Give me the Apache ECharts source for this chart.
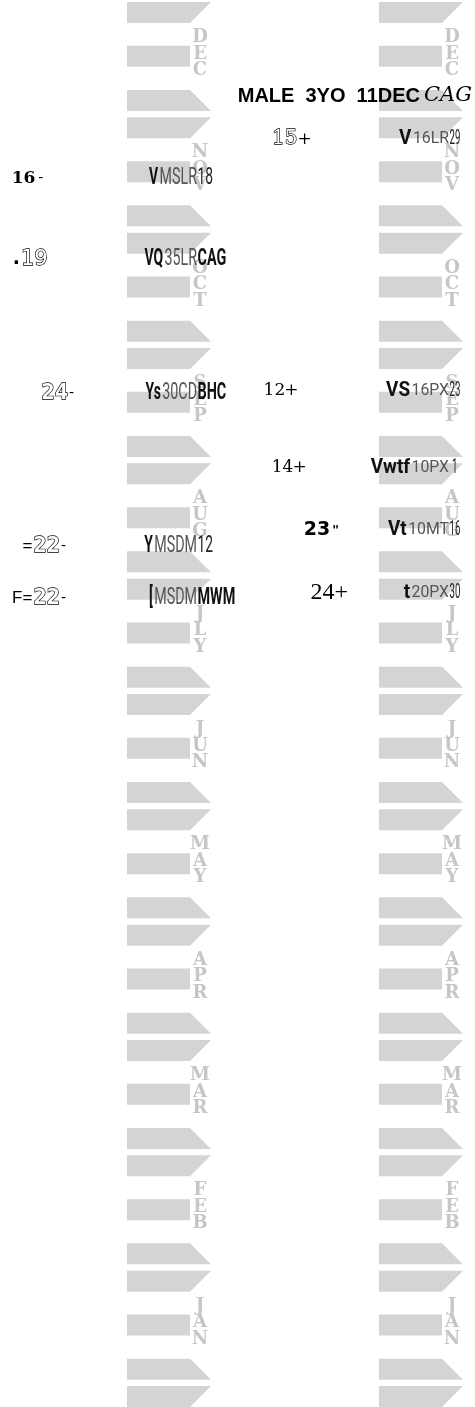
<!DOCTYPE html>
<html><head><meta charset="utf-8">
<script src="https://cdn.jsdelivr.net/npm/echarts@6/dist/echarts.min.js"></script>
<style>html,body{margin:0;padding:0;background:#fff}#c{width:475px;height:1407px}</style>
</head><body><div id="c"></div>
<script>
// ---------- data ----------
const months = ['DEC','NOV','OCT','SEP','AUG','JLY','JUN','MAY','APR','MAR','FEB','JAN'];
const columns = ['earlier', 'later'];
// time is measured in months from the top of DEC (0) down to the bottom of JAN (12)
const leftFigures = [16, 19, 24, 22, 22];
const leftPrefix  = ['', '.', '', '=', 'F='];
const leftSuffix  = ['-', '', '-', '-', '-'];
const leftTime    = [1.53, 2.23, 3.39, 4.72, 5.17];
const leftFlags   = ['V', 'VQ', 'Ys', 'Y', '['];
const leftRace    = ['MSLR', '35LR', '30CD', 'MSDM', 'MSDM'];
const leftTail    = ['18', 'CAG', 'BHC', '12', 'MWM'];
const leftTailIsTrack = [false, true, true, false, true];

const rightFigures = [15, 12, 14, 23, 24];
const rightPrefix  = ['', '', '', '', ''];
const rightSuffix  = ['+', '+', '+', '"', '+'];
const rightTime    = [1.19, 3.37, 4.04, 4.58, 5.12];
const rightFlags   = ['V', 'VS', 'Vwtf', 'Vt', 't'];
const rightRace    = ['16LR', '16PX', '10PX', '10MT', '20PX'];
const rightTail    = ['29', '23', ' 1', '16', '30'];

const headerMain  = 'MALE  3YO  11DEC';
const headerTrack = 'CAG';
const headerTime  = 0.815;

// ---------- styles ----------
const SHAPE = '#d4d4d4', LETTER = '#c6c6c6';
const FS = {
  serifBold:   {fontFamily:'DejaVu Serif', fontWeight:'bold', fontSize:17, fill:'#000'},
  outlineSans: {fontFamily:'DejaVu Sans', fontWeight:'normal', fontSize:21, fill:'#fff', stroke:'#000', lineWidth:1.3},
  outlineMono: {fontFamily:'DejaVu Sans Mono', fontWeight:'bold', fontSize:22, fill:'#fff', stroke:'#000', lineWidth:1.3},
  outlineSerif:{fontFamily:'DejaVu Serif', fontWeight:'normal', fontSize:20, fill:'#fff', stroke:'#000', lineWidth:1.3},
  serif:       {fontFamily:'DejaVu Serif', fontWeight:'normal', fontSize:17, fill:'#000'},
  heavy:       {fontFamily:'DejaVu Sans', fontWeight:'bold', fontSize:19, fill:'#000'},
  serifLight:  {fontFamily:'Liberation Serif', fontWeight:'normal', fontSize:24, fill:'#000'},
  small:       {fontFamily:'DejaVu Sans', fontWeight:'normal', fontSize:14, fill:'#000'},
  prefix:      {fontFamily:'Liberation Sans', fontWeight:'normal', fontSize:17, fill:'#000'},
  dot:         {fontFamily:'DejaVu Sans', fontWeight:'bold', fontSize:19, fill:'#000'},
  smallSerif:  {fontFamily:'DejaVu Serif', fontWeight:'normal', fontSize:17, fill:'#000'},
  bigSerif:    {fontFamily:'Liberation Serif', fontWeight:'normal', fontSize:24, fill:'#000'},
  quote:       {fontFamily:'DejaVu Sans', fontWeight:'bold', fontSize:13, fill:'#000'}
};
const figStyle = [
  [ {pre:FS.prefix, dig:FS.serifBold, suf:FS.small, gap:3},
    {pre:FS.dot, dig:FS.outlineSans, suf:FS.small, gap:1},
    {pre:FS.prefix, dig:FS.outlineMono, suf:FS.small, gap:1},
    {pre:FS.prefix, dig:FS.outlineMono, suf:FS.small, gap:1},
    {pre:FS.prefix, dig:FS.outlineMono, suf:FS.small, gap:1} ],
  [ {pre:FS.prefix, dig:FS.outlineSerif, suf:FS.smallSerif, gap:0},
    {pre:FS.prefix, dig:FS.serif, suf:FS.smallSerif, gap:-1},
    {pre:FS.prefix, dig:FS.serif, suf:FS.smallSerif, gap:-1},
    {pre:FS.prefix, dig:FS.heavy, suf:FS.quote, gap:2},
    {pre:FS.prefix, dig:FS.serifLight, suf:FS.bigSerif, gap:0} ]
];
const raceStyle = [
  { flags:{fontFamily:'Roboto', fontWeight:'bold', fontSize:24, fill:'#111', scaleX:0.58},
    race: {fontFamily:'Roboto', fontWeight:'normal', fontSize:23, fill:'#555', scaleX:0.62},
    tail: {fontFamily:'Roboto', fontWeight:'normal', fontSize:23, fill:'#222', scaleX:0.6},
    track:{fontFamily:'Roboto', fontWeight:'bold', fontSize:24, fill:'#111', scaleX:0.6} },
  { flags:{fontFamily:'Roboto', fontWeight:'bold', fontSize:21, fill:'#111', scaleX:0.9},
    race: {fontFamily:'Roboto', fontWeight:'normal', fontSize:17, fill:'#555', scaleX:0.93},
    tail: {fontFamily:'Roboto', fontWeight:'normal', fontSize:21, fill:'#222', scaleX:0.46},
    track:{fontFamily:'Roboto', fontWeight:'bold', fontSize:21, fill:'#111', scaleX:0.6} }
];
const letterStyle = {fontFamily:'DejaVu Serif', fontWeight:'bold', fontSize:18, fill:LETTER};

// ---------- helpers ----------
const mctx = document.createElement('canvas').getContext('2d');
function width(text, s) {
  mctx.font = (s.fontStyle || 'normal') + ' ' + (s.fontWeight || 'normal') + ' ' + s.fontSize + 'px "' + s.fontFamily + '"';
  return mctx.measureText(text).width * (s.scaleX || 1);
}
function textEl(text, x, y, s, align) {
  return {
    type: 'text', x: x, y: y, scaleX: s.scaleX || 1, scaleY: 1,
    style: {
      text: text, fontFamily: s.fontFamily, fontWeight: s.fontWeight || 'normal',
      fontStyle: s.fontStyle || 'normal', fontSize: s.fontSize,
      fill: s.fill, stroke: s.stroke || null, lineWidth: s.lineWidth || 0,
      align: align, verticalAlign: 'middle'
    }
  };
}

// ---------- series renderers ----------
function renderMonth(params, api) {
  const c = api.value(0), k = api.value(1);
  const p = api.coord([c, k]);
  const mh = api.size([0, 1])[1];
  const x0 = p[0] + 1, y0 = p[1];
  const W = 63, S = 21, H = 0.182 * mh;
  const yr = y0 + 0.38 * mh, yb = y0 + 0.763 * mh;
  const kids = [
    {type:'polygon', shape:{points:[[x0,y0],[x0+W+S,y0],[x0+W,y0+H],[x0,y0+H]]}, style:{fill:SHAPE}},
    {type:'rect', shape:{x:x0, y:yr, width:W, height:H}, style:{fill:SHAPE}},
    {type:'polygon', shape:{points:[[x0,yb],[x0+W,yb],[x0+W+S,yb+H],[x0,yb+H]]}, style:{fill:SHAPE}}
  ];
  const name = months[k];
  const yc = y0 + 0.45 * mh;
  for (let i = 0; i < name.length; i++) {
    kids.push(textEl(name[i], x0 + 73, yc + (i - 1) * 16.5, letterStyle, 'center'));
  }
  return {type:'group', children:kids};
}
function renderYearEnd(params, api) {
  const p = api.coord([api.value(0), api.value(1)]);
  const mh = api.size([0, 1])[1];
  const x0 = p[0] + 1, y0 = p[1], W = 63, S = 21, H = 0.182 * mh;
  return {type:'polygon', shape:{points:[[x0,y0],[x0+W+S,y0],[x0+W,y0+H],[x0,y0+H]]}, style:{fill:SHAPE}};
}
function renderRace(params, api) {
  const c = api.value(0), i = api.value(2);
  const p = api.coord([c, api.value(1)]);
  const ax = p[0] + 71, y = p[1];
  const st = raceStyle[c];
  const flags = c ? rightFlags[i] : leftFlags[i];
  const race = c ? rightRace[i] : leftRace[i];
  const tail = c ? rightTail[i] : leftTail[i];
  const tailSt = (!c && leftTailIsTrack[i]) ? st.track : st.tail;
  const wr = width(race, st.race);
  return {type:'group', children:[
    textEl(race, ax, y, st.race, 'right'),
    textEl(flags, ax - wr - 1.5, y, st.flags, 'right'),
    textEl(tail, ax + 0.5, y, tailSt, 'left')
  ]};
}
function renderFigure(side) {
  return function (params, api) {
    const i = api.value(2);
    const p = api.coord([api.value(0), api.value(1)]);
    const st = figStyle[side][i];
    const digits = String(side ? rightFigures[i] : leftFigures[i]);
    const pre = side ? rightPrefix[i] : leftPrefix[i];
    const suf = side ? rightSuffix[i] : leftSuffix[i];
    const wd = width(digits, st.dig);
    const kids = [textEl(digits, p[0], p[1], st.dig, 'right')];
    if (pre) kids.push(textEl(pre, p[0] - wd - 1, p[1], st.pre, 'right'));
    if (suf) kids.push(textEl(suf, p[0] + st.gap, p[1], st.suf, 'left'));
    return {type:'group', children:kids};
  };
}
function renderHeader(params, api) {
  const p = api.coord([api.value(0), api.value(1)]);
  const x = p[0] + 94, y = p[1];
  const trackSt = {fontFamily:'DejaVu Serif', fontStyle:'italic', fontSize:21, fill:'#000'};
  const mainSt = {fontFamily:'Liberation Sans', fontWeight:'bold', fontSize:20, fill:'#000'};
  const wt = width(headerTrack, trackSt);
  return {type:'group', children:[
    textEl(headerTrack, x, y, trackSt, 'right'),
    textEl(headerMain, x - wt - 4, y, mainSt, 'right')
  ]};
}

// ---------- build data ----------
const monthData = [], endData = [], raceData = [], figL = [], figR = [];
for (let c = 0; c < columns.length; c++) {
  for (let k = 0; k < months.length; k++) monthData.push([c, k]);
  endData.push([c, months.length]);
}
leftTime.forEach((t, i) => { raceData.push([0, t, i]); figL.push([leftFigures[i], t, i]); });
rightTime.forEach((t, i) => { raceData.push([1, t, i]); figR.push([rightFigures[i], t, i]); });

const yAx = (g) => ({type:'value', gridIndex:g, min:0, max:12, inverse:true, show:false});
const chart = echarts.init(document.getElementById('c'), null, {renderer:'canvas'});
chart.setOption({
  animation: false,
  backgroundColor: '#fff',
  grid: [
    {left: 2.5, top: 2, width: 205, height: 1384},
    {left: 268.8, top: 2, width: 205, height: 1384},
    {left: 126, top: 2, width: 252, height: 1384}
  ],
  xAxis: [
    {type:'value', gridIndex:0, min:8, max:58, show:false},
    {type:'value', gridIndex:1, min:8, max:58, show:false},
    {type:'value', gridIndex:2, min:0, max:1, show:false}
  ],
  yAxis: [yAx(0), yAx(1), yAx(2)],
  series: [
    {type:'custom', name:'months', xAxisIndex:2, yAxisIndex:2, renderItem:renderMonth, data:monthData, z:1, silent:true},
    {type:'custom', name:'yearEnd', xAxisIndex:2, yAxisIndex:2, renderItem:renderYearEnd, data:endData, z:1, silent:true},
    {type:'custom', name:'races', xAxisIndex:2, yAxisIndex:2, renderItem:renderRace, data:raceData, z:3, silent:true},
    {type:'custom', name:'header', xAxisIndex:2, yAxisIndex:2, renderItem:renderHeader, data:[[1, headerTime]], z:3, silent:true},
    {type:'custom', name:'figuresLeft', xAxisIndex:0, yAxisIndex:0, renderItem:renderFigure(0), data:figL, z:3, silent:true},
    {type:'custom', name:'figuresRight', xAxisIndex:1, yAxisIndex:1, renderItem:renderFigure(1), data:figR, z:3, silent:true}
  ]
});
</script></body></html>
